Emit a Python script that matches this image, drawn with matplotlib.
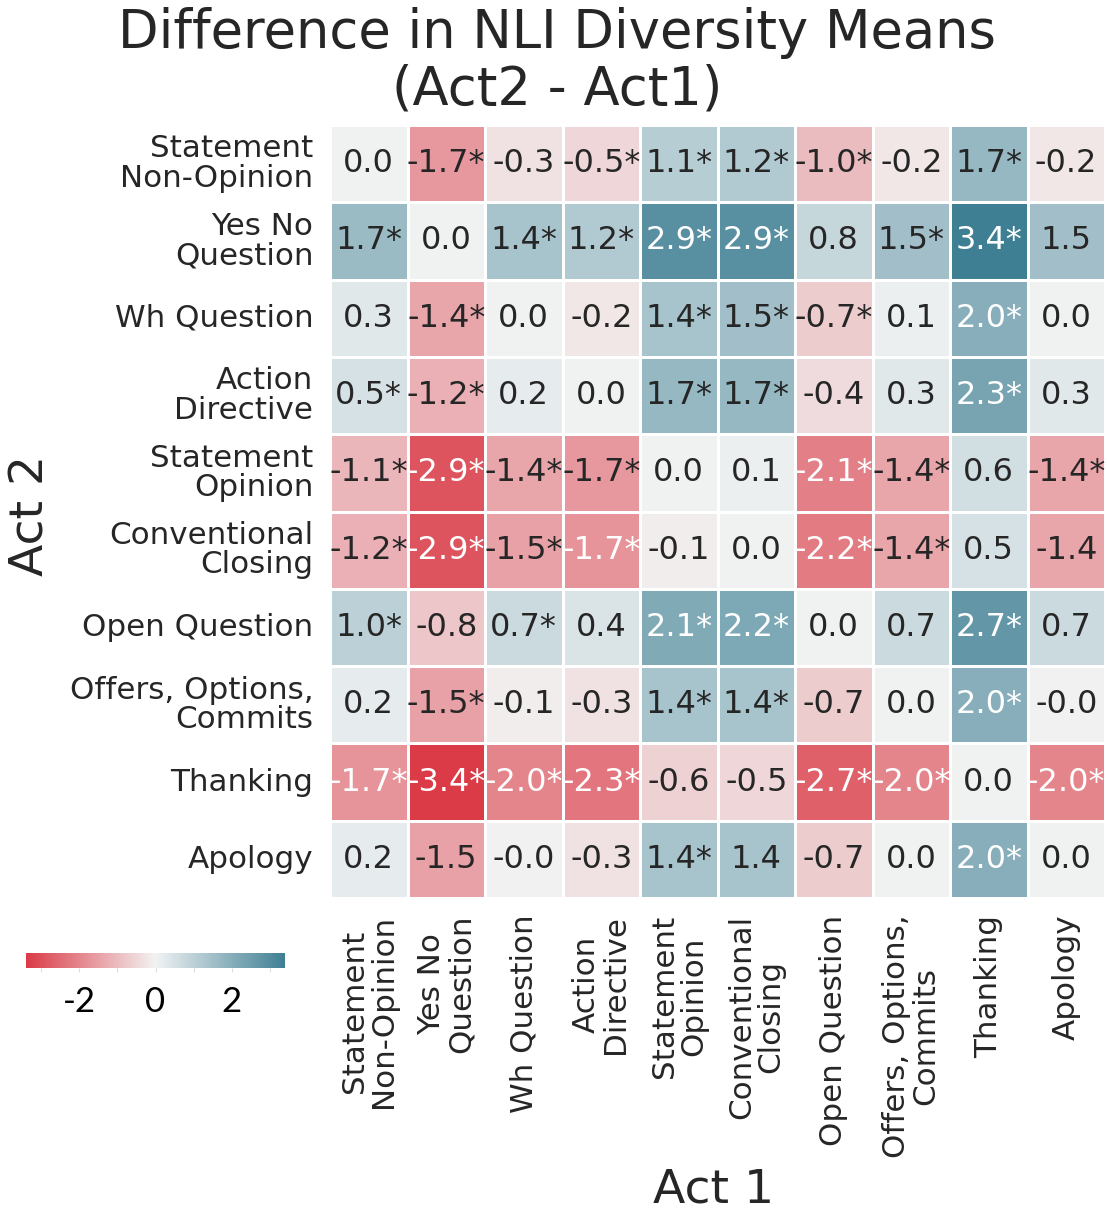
import numpy as np
import matplotlib
matplotlib.use("Agg")
import matplotlib.pyplot as plt
from matplotlib.ticker import MultipleLocator
import seaborn as sns

acts = ["Statement\nNon-Opinion", "Yes No\nQuestion", "Wh Question", "Action\nDirective",
        "Statement\nOpinion", "Conventional\nClosing", "Open Question",
        "Offers, Options,\nCommits", "Thanking", "Apology"]

# rows = Act 2, columns = Act 1
diff = [
    [0.0, -1.66, -0.3, -0.5, 1.1, 1.2, -1.0, -0.2, 1.7, -0.2],
    [1.66, 0.0, 1.4, 1.2, 2.9, 2.9, 0.8, 1.5, 3.4, 1.5],
    [0.3, -1.4, 0.0, -0.2, 1.4, 1.5, -0.7, 0.1, 2.0, 0.0],
    [0.5, -1.2, 0.2, 0.0, 1.7, 1.7, -0.4, 0.3, 2.3, 0.3],
    [-1.1, -2.9, -1.4, -1.66, 0.0, 0.1, -2.1, -1.4, 0.6, -1.4],
    [-1.2, -2.9, -1.5, -1.74, -0.1, 0.0, -2.2, -1.4, 0.5, -1.4],
    [1.0, -0.8, 0.7, 0.4, 2.1, 2.2, 0.0, 0.7, 2.7, 0.7],
    [0.2, -1.5, -0.1, -0.3, 1.4, 1.4, -0.7, 0.0, 2.0, -0.02],
    [-1.74, -3.4, -2.0, -2.3, -0.6, -0.5, -2.7, -2.0, 0.0, -2.0],
    [0.2, -1.5, -0.02, -0.3, 1.4, 1.4, -0.7, 0.0, 2.0, 0.0],
]

significant = [
    [0, 1, 0, 1, 1, 1, 1, 0, 1, 0],
    [1, 0, 1, 1, 1, 1, 0, 1, 1, 0],
    [0, 1, 0, 0, 1, 1, 1, 0, 1, 0],
    [1, 1, 0, 0, 1, 1, 0, 0, 1, 0],
    [1, 1, 1, 1, 0, 0, 1, 1, 0, 1],
    [1, 1, 1, 1, 0, 0, 1, 1, 0, 0],
    [1, 0, 1, 0, 1, 1, 0, 0, 1, 0],
    [0, 1, 0, 0, 1, 1, 0, 0, 1, 0],
    [1, 1, 1, 1, 0, 0, 1, 1, 0, 1],
    [0, 0, 0, 0, 1, 0, 0, 0, 1, 0],
]

cbar_ticks = [-2, 0, 2]

values = np.array(diff)
sig = np.array(significant, dtype=bool)
annot = np.array([[f"{v:.1f}" + ("*" if s else "") for v, s in zip(rv, rs)]
                  for rv, rs in zip(values, sig)])

W, H = 1107, 1215
fig = plt.figure(figsize=(W / 100, H / 100), dpi=100)
ax = fig.add_axes([330 / W, 1 - 898 / H, 775 / W, 773 / H])
cax = fig.add_axes([26 / W, 1 - 968 / H, 259 / W, 15 / H])

cmap = sns.diverging_palette(10, 220, as_cmap=True)
sns.heatmap(values, ax=ax, cbar_ax=cax, cmap=cmap, vmin=-3.4, vmax=3.4, center=0,
            annot=annot, fmt="", annot_kws={"fontsize": 23},
            linewidths=2, linecolor="white",
            xticklabels=acts, yticklabels=acts,
            cbar_kws={"orientation": "horizontal"})

txtc = "#262626"
ax.tick_params(axis="both", length=0, labelsize=22.3, colors=txtc, pad=12)
for lab in ax.get_yticklabels():
    lab.set_rotation(0)
    lab.set_linespacing(1.02)
    lab.set_color(txtc)
for lab in ax.get_xticklabels():
    lab.set_rotation(90)
    lab.set_linespacing(1.02)
    lab.set_color(txtc)
ax.set_xlabel("Act 1", fontsize=34, color=txtc)
ax.set_ylabel("Act 2", fontsize=34, color=txtc)
ax.xaxis.label.set_va("center")
ax.yaxis.label.set_va("center")
ax.xaxis.set_label_coords((714 - 330) / 775, -(1190 - 898) / 773)
ax.yaxis.set_label_coords((31 - 330) / 775, 1 - (515 - 125) / 773)

fig.text(0.503, 1 - 61 / H, "Difference in NLI Diversity Means\n(Act2 - Act1)",
         ha="center", va="center", fontsize=38, color=txtc, linespacing=1.1)

cax.set_xticks(cbar_ticks)
cax.set_xticklabels([str(t) for t in cbar_ticks])
cax.xaxis.set_minor_locator(MultipleLocator(1))
cax.tick_params(axis="x", which="both", length=3, width=0.8, color="#dddddd",
                labelsize=25, labelcolor="black", pad=10)
for lab in cax.get_xticklabels():
    lab.set_fontfamily(["Lato", "DejaVu Sans"])

fig.savefig("out.png", dpi=100)
